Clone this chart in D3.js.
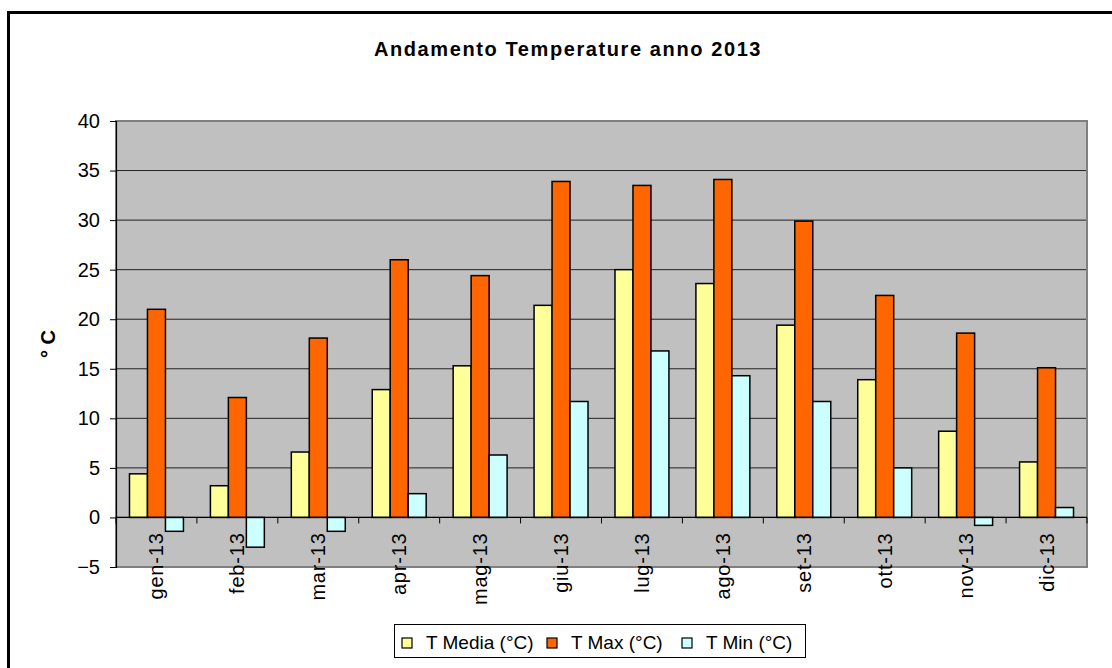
<!DOCTYPE html>
<html>
<head>
<meta charset="utf-8">
<script src="https://cdn.jsdelivr.net/npm/d3@7"></script>
<style>
  html, body { margin: 0; padding: 0; background: #fff; }
  svg { display: block; font-family: "Liberation Sans", Arial, sans-serif; }
</style>
</head>
<body>
<svg id="chart" width="1112" height="668"></svg>
<script>
const months = ["gen-13","feb-13","mar-13","apr-13","mag-13","giu-13","lug-13","ago-13","set-13","ott-13","nov-13","dic-13"];
const tMedia = [4.4, 3.2, 6.6, 12.9, 15.3, 21.4, 25.0, 23.6, 19.4, 13.9, 8.7, 5.6];
const tMax   = [21.0, 12.1, 18.1, 26.0, 24.4, 33.9, 33.5, 34.1, 29.9, 22.4, 18.6, 15.1];
const tMin   = [-1.4, -3.0, -1.4, 2.4, 6.3, 11.7, 16.8, 14.3, 11.7, 5.0, -0.8, 1.0];
const seriesNames = ["T Media (°C)", "T Max (°C)", "T Min (°C)"];
const seriesColors = ["#FFFF99", "#FF6600", "#CCFFFF"];
const yTicks = [-5, 0, 5, 10, 15, 20, 25, 30, 35, 40];
const title = "Andamento Temperature anno 2013";
const yTitle = "° C";

const series = [tMedia, tMax, tMin];
const svg = d3.select("#chart");

const L = 116, R = 1087, T = 121, B = 567;
const x = d3.scaleBand().domain(months).range([L, R]).padding(0);
const y = d3.scaleLinear().domain([-5, 40]).range([B, T]);
const bw = x.bandwidth() / 4.5;
const sub = d3.scaleBand().domain(d3.range(series.length)).range([0.75 * bw, 3.75 * bw]).padding(0);

// outer frame
svg.append("rect").attr("x", 8.5).attr("y", 12.5).attr("width", 1200).attr("height", 800)
  .attr("fill", "#fff").attr("stroke", "#000").attr("stroke-width", 3);

// title
svg.append("text").attr("x", 568).attr("y", 56).attr("text-anchor", "middle")
  .attr("font-size", 20).attr("font-weight", "bold").attr("letter-spacing", 1.6)
  .text(title);

// plot background
svg.append("rect").attr("x", L).attr("y", T).attr("width", R - L).attr("height", B - T)
  .attr("fill", "#C0C0C0");

// gridlines
svg.append("g").selectAll("line").data(yTicks.filter(d => d !== -5 && d !== 40)).join("line")
  .attr("x1", L).attr("x2", R).attr("y1", d => y(d)).attr("y2", d => y(d))
  .attr("stroke", "#222").attr("stroke-width", 1);

// plot border (gray)
svg.append("rect").attr("x", L).attr("y", T).attr("width", R - L).attr("height", B - T)
  .attr("fill", "none").attr("stroke", "#808080").attr("stroke-width", 2);

// bars
series.forEach((vals, si) => {
  svg.append("g").selectAll("rect").data(vals).join("rect")
    .attr("x", (d, i) => x(months[i]) + sub(si))
    .attr("width", sub.bandwidth())
    .attr("y", d => y(Math.max(0, d)))
    .attr("height", d => Math.abs(y(d) - y(0)))
    .attr("fill", seriesColors[si])
    .attr("stroke", "#000").attr("stroke-width", 1.5);
});

// y axis
const yAxis = d3.axisLeft(y).tickValues(yTicks).tickSize(6).tickPadding(10).tickFormat(d3.format("d"));
const gy = svg.append("g").attr("transform", `translate(${L},0)`).call(yAxis);
gy.select(".domain").attr("stroke", "#000").attr("stroke-width", 1.2);
gy.selectAll(".tick line").attr("stroke", "#000");
gy.selectAll(".tick text").attr("font-size", 20).attr("fill", "#000")
  .attr("font-family", "Liberation Sans, Arial, sans-serif");

// x axis at zero: line and ticks at boundaries
svg.append("line").attr("x1", L).attr("x2", R).attr("y1", y(0)).attr("y2", y(0))
  .attr("stroke", "#000").attr("stroke-width", 1.2);
const bounds = months.map(m => x(m)).concat([R]);
svg.append("g").selectAll("line").data(bounds).join("line")
  .attr("x1", d => d).attr("x2", d => d).attr("y1", y(0)).attr("y2", y(0) + 6)
  .attr("stroke", "#000").attr("stroke-width", 1);

// x labels
svg.append("g").selectAll("text").data(months).join("text")
  .attr("transform", d => `translate(${x(d) + x.bandwidth() / 2 + 7},${y(0) + 15}) rotate(-90)`)
  .attr("text-anchor", "end").attr("font-size", 20).attr("letter-spacing", 0.8).attr("fill", "#000")
  .text(d => d);

// y title
svg.append("text").attr("transform", `translate(55,344) rotate(-90)`)
  .attr("text-anchor", "middle").attr("font-size", 20).attr("font-weight", "bold")
  .text(yTitle);

// legend
const lg = svg.append("g");
lg.append("rect").attr("x", 394.5).attr("y", 624.5).attr("width", 411).attr("height", 33)
  .attr("fill", "#fff").attr("stroke", "#000").attr("stroke-width", 1);
const legX = [402, 547, 682];
seriesNames.forEach((n, i) => {
  lg.append("rect").attr("x", legX[i]).attr("y", 638).attr("width", 10).attr("height", 10)
    .attr("fill", seriesColors[i]).attr("stroke", "#000").attr("stroke-width", 1.2);
  lg.append("text").attr("x", legX[i] + 24).attr("y", 649).attr("font-size", 19)
    .attr("fill", "#000").text(n);
});
</script>
</body>
</html>
